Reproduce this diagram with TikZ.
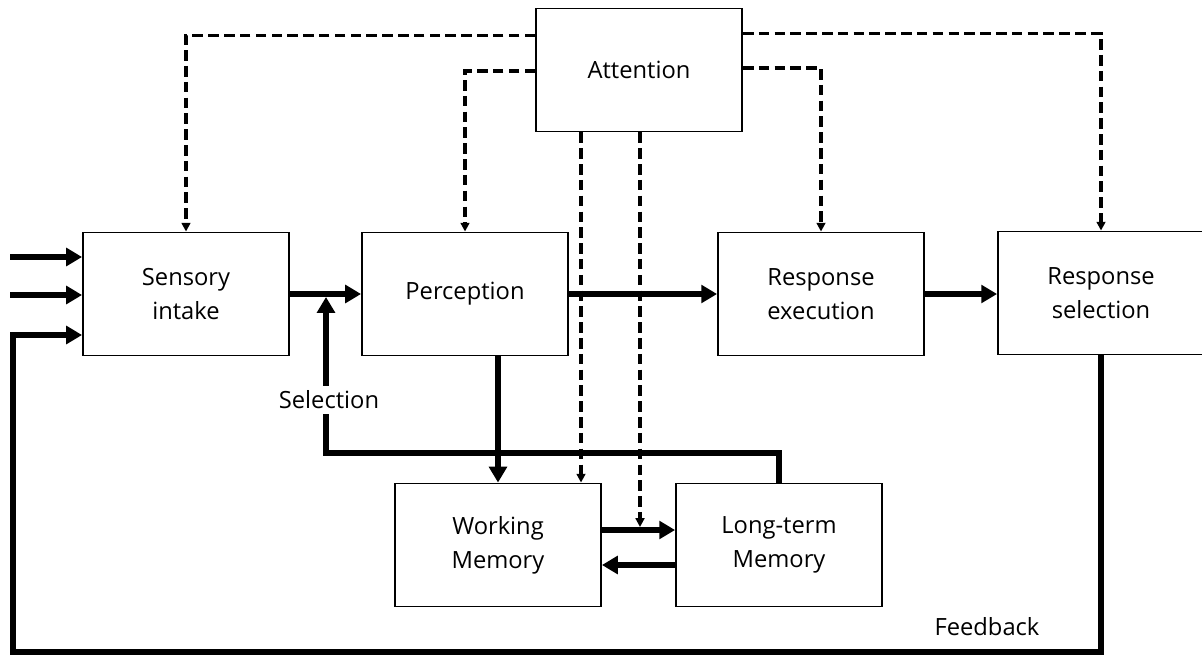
\documentclass[tikz,border=0pt]{standalone}
\usepackage{fontspec}
\setmainfont{Open Sans}
\usetikzlibrary{arrows.meta,calc}

\begin{document}
\begin{tikzpicture}[x=0.02cm,y=-0.02cm,
    font=\fontsize{13.5}{19.5}\selectfont,
    block/.style={draw,line width=1.1pt,minimum width=4.12cm,
      minimum height=2.46cm,align=center,inner sep=0pt},
    flow/.style={line width=3.1pt,-{Triangle[length=9pt,width=10pt]}},
    attn/.style={line width=1.9pt,dash pattern=on 6pt off 3pt,
      -{Triangle[length=5pt,width=5pt]}},
    tag/.style={fill=white,inner sep=3pt}]
    \clip (0,0) rectangle (1202,655);

    \node[block] (att) at (639,70) {Attention};
    \node[block] (sens) at (186,294) {Sensory\\intake};
    \node[block] (perc) at (465,294) {Perception};
    \node[block] (rexe) at (821,294) {Response\\execution};
    \node[block] (rsel) at (1101,293) {Response\\selection};
    \node[block] (wm) at (498,545) {Working\\Memory};
    \node[block] (ltm) at (779,545) {Long-term\\Memory};

    \coordinate (in1) at (10,257);
    \coordinate (in2) at (10,295);
    \coordinate (fbturn) at (13,652);
    \coordinate (selturn) at (326,453);
    \coordinate (seltip) at (326,297);
    \coordinate (att1) at ($(att.south)+(-58,0)$);
    \coordinate (att2) at ($(att.south)+(1,0)$);
    \coordinate (wmout) at ($(wm.east)+(0,-15)$);

    \draw[attn] ($(att.north west)+(0,28)$) -| (sens.north);
    \draw[attn] ($(att.west)+(0,1)$) -| (perc.north);
    \draw[attn] ($(att.east)+(0,-2)$) -| (rexe.north);
    \draw[attn] ($(att.north east)+(0,26)$) -| (rsel.north);
    \draw[attn] (att1) -- (att1 |- wm.north);
    \draw[attn] (att2) -- ($(att2 |- wmout)+(0,-3)$);

    \draw[flow] (in1) -- (in1 -| sens.west);
    \draw[flow] (in2) -- (in2 -| sens.west);
    \draw[flow] (rsel.south) |- (fbturn) |- ($(sens.west)+(0,41)$);
    \draw[flow] (sens.east) -- (perc.west);
    \draw[flow] (perc.east) -- (rexe.west);
    \draw[flow] (rexe.east) -- (rexe.east -| rsel.west);
    \draw[flow] (wm.north |- perc.south) -- (wm.north);
    \draw[flow] (wmout) -- (wmout -| ltm.west);
    \draw[flow] ($(ltm.west)+(0,20)$) -- ($(wm.east)+(0,20)$);
    \draw[flow] (ltm.north) |- (selturn) -- (seltip);

    \node[tag] (sellabel) at (329,400) {Selection};
    \node (fblabel) at (987,627) {Feedback};
  \end{tikzpicture}
\end{document}
